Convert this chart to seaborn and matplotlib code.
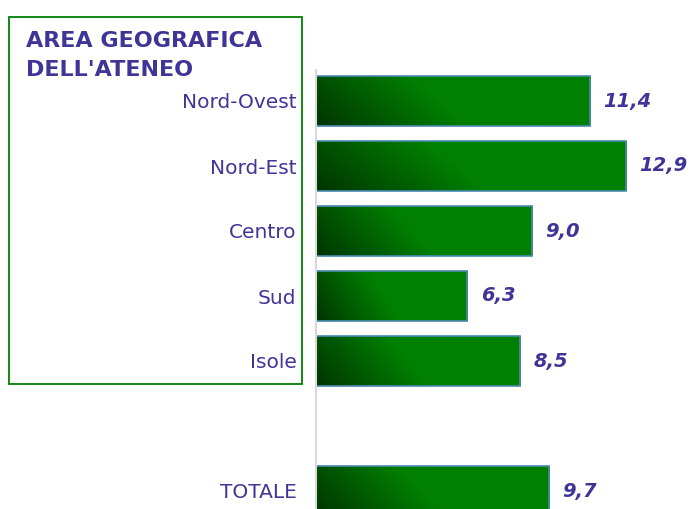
import numpy as np
import pandas as pd
import seaborn as sns
import matplotlib.pyplot as plt
from matplotlib.colors import LinearSegmentedColormap
from matplotlib.patches import Rectangle

# data
aree = ["Nord-Ovest", "Nord-Est", "Centro", "Sud", "Isole", " ", "TOTALE"]
valori = [11.4, 12.9, 9.0, 6.3, 8.5, np.nan, 9.7]
titolo = ["AREA GEOGRAFICA", "DELL'ATENEO"]

df = pd.DataFrame({"area": aree, "valore": valori}).dropna()

sns.set_style("white")
plt.rcParams["font.family"] = ["DejaVu Sans"]
viola = "#3F3597"

W, H = 693, 509
fig = plt.figure(figsize=(W / 100, H / 100), dpi=100)
# axes placed in pixel terms: zero line at x=316, top at y=70, bottom at figure edge
ax = fig.add_axes([316 / W, 0, 1 - 316 / W, (H - 70) / H])

sns.barplot(data=df, y="area", x="valore", order=aree, orient="h",
            color="#008000", width=0.77, edgecolor="#4A8AB0", linewidth=1.2, ax=ax)

xmax = (W - 316) / 24.04
ymin, ymax = (H - 101) / 65, (70 - 101) / 65

# gradient fill clipped to each bar
cmap = LinearSegmentedColormap.from_list("verde", ["#003400", "#005A00", "#008000"])
ny, nx = 40, 200
xf = np.linspace(0, 1, nx)[None, :]
yf = np.linspace(0, 1, ny)[:, None]  # 0 = top row
grad = np.clip((xf + 0.2 * (1 - yf)) / 0.55, 0, 1)
for p in ax.patches:
    x0, y0 = p.get_x(), p.get_y()
    w, h = p.get_width(), p.get_height()
    if np.isnan(w) or w == 0:
        continue
    im = ax.imshow(grad, cmap=cmap, extent=[x0, x0 + w, y0 + h, y0],
                   aspect="auto", zorder=p.get_zorder() + 0.1, interpolation="bilinear")
    im.set_clip_path(p)
    p.set_facecolor("none")
    p.set_zorder(p.get_zorder() + 0.2)
ax.set_xlim(0, xmax)
ax.set_ylim(ymin, ymax)

# value labels
for i, (a, v) in enumerate(zip(aree, valori)):
    if np.isnan(v):
        continue
    ax.text(v + 0.55, i, f"{v:.1f}".replace(".", ","), va="center", ha="left",
            fontsize=14, fontweight="bold", fontstyle="italic", color=viola)

ax.set_xlabel("")
ax.set_ylabel("")
ax.set_xticks([])
ax.tick_params(axis="y", length=0, pad=14, labelsize=14.5, labelcolor=viola)
for s in ["top", "right", "bottom"]:
    ax.spines[s].set_visible(False)
ax.spines["left"].set_color("#D9D9D9")
ax.spines["left"].set_linewidth(1.5)

# box with title
fig.patches.append(Rectangle((9 / W, 1 - 384 / H), (302 - 9) / W, (384 - 17) / H,
                             transform=fig.transFigure, fill=False,
                             edgecolor="#008000", linewidth=1.3))
for riga, base in zip(titolo, [47, 76]):
    fig.text(26 / W, 1 - base / H, riga, ha="left", va="baseline", fontsize=16,
             fontweight="bold", color=viola)

fig.savefig("out.png", dpi=100)
